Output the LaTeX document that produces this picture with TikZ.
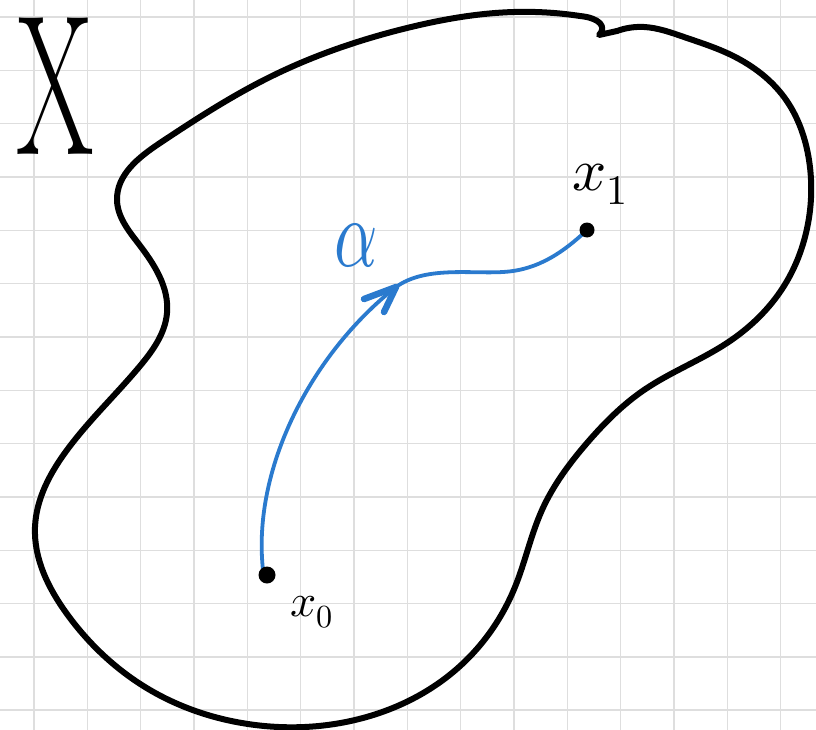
\documentclass[tikz,border=0pt]{standalone}
\usepackage{fontspec}
\usepackage{unicode-math}
\usetikzlibrary{hobby}
\definecolor{pathblue}{RGB}{42,122,206}
\definecolor{gridgray}{RGB}{222,222,222}
\tikzset{
  gridline/.style={draw=gridgray, line width=1.6pt},
  outline/.style={draw=black, line width=6pt, line join=round, line cap=round},
  bluepath/.style={draw=pathblue, line width=3.8pt, line cap=round},
  barb/.style={draw=pathblue, line width=6.5pt, line cap=round, line join=round},
  dot/.style={circle, fill=black, inner sep=0pt, minimum size=#1},
  lbl/.style={inner sep=0pt, text=black}
}
\begin{document}
\begin{tikzpicture}[x=1pt,y=-1pt]
\fill[white] (0,0) rectangle (816,730);
\useasboundingbox (0,0) rectangle (816,730);
% grid
\foreach \k in {0,...,14} \draw[gridline] ({34+53.33*\k},0) -- ({34+53.33*\k},730);
\foreach \k in {0,...,13} \draw[gridline] (0,{17+53.33*\k}) -- (816,{17+53.33*\k});
% outline of X
\draw[outline, use Hobby shortcut] (617,31) .. (644,27) .. (684,37) .. (727,53)
 .. (784,97) .. (809,160) .. (806,233) .. (784,286) .. (727,343) .. (644,390)
 .. (587,443) .. (542,510) .. (515,587) .. (459,667) .. (355,720) .. (248,724)
 .. (150,690) .. (67,614) .. (35,527) .. (67,450) .. (140,366) .. (167,313)
 .. (138,243) .. (117,200) .. (160,143) .. (272,76) .. (407,28) .. (514,12)
 .. (580,16);
\draw[outline] (580,16) .. controls (600,18) and (607,27) .. (599,35) -- (617,31);
% points
\coordinate (p0) at (263,570);
\coordinate (p1) at (585,232);
\coordinate (tip) at (396,287);
\draw[bluepath] (p0) .. controls (252,470) and (310,355) .. (tip)
  .. controls (425,266) and (470,274) .. (503,272)
  .. controls (540,270) and (565,250) .. (p1);
\draw[barb] (364,299) -- (tip) -- (384,312);
\node[dot=17pt] (x0) at (267,575) {};
\node[dot=15pt] (x1) at (587,230) {};
% labels
\node[lbl, anchor=base west] (lx0) at (290,616) {\fontsize{46}{46}\selectfont$x_0$};
\node[lbl, anchor=base west] (lx1) at (572,190) {\fontsize{60}{60}\selectfont$x_1$};
\node[lbl, text=pathblue, anchor=base west, xscale=0.9, yscale=1.3] (la) at (334,266) {\fontsize{75}{75}\selectfont$\boldsymbol{\alpha}$};
\node[lbl, anchor=base west, xscale=0.56] (lX) at (16,155) {\fontsize{200}{200}\selectfont X};
\end{tikzpicture}
\end{document}
